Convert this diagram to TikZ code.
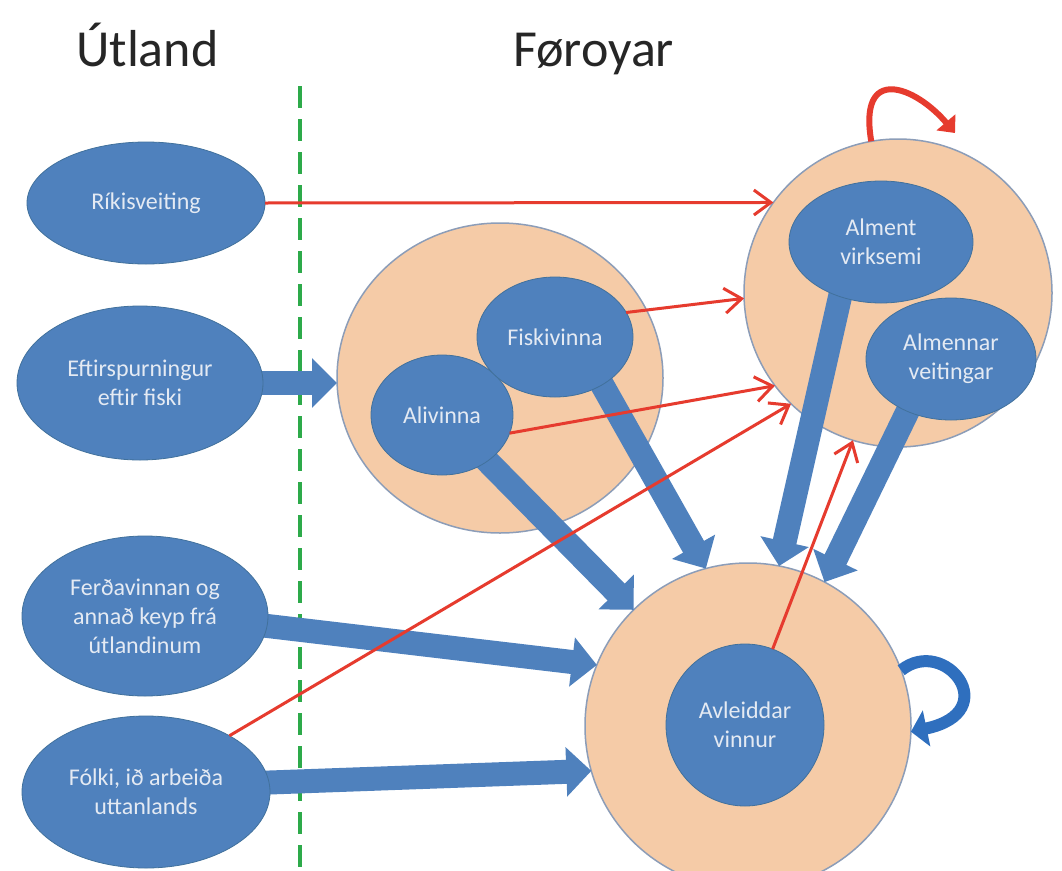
\documentclass[tikz,border=0pt]{standalone}
\usepackage{fontspec}
\setmainfont{Carlito}
\usetikzlibrary{shapes.geometric,arrows.meta,calc}
\definecolor{blu}{HTML}{4F81BD}
\definecolor{bluline}{HTML}{41719C}
\definecolor{peach}{HTML}{F5CBA7}
\definecolor{peachline}{HTML}{8C9DB8}
\definecolor{redl}{HTML}{E63B2E}
\definecolor{grn}{HTML}{2DAA4A}
\definecolor{txt}{HTML}{E4EAF3}
\definecolor{titlec}{HTML}{262626}
\definecolor{loopblue}{HTML}{2F6FBE}
\pgfdeclarelayer{back}
\pgfdeclarelayer{mid}
\pgfsetlayers{back,mid,main}
\begin{document}
\begin{tikzpicture}[x=1pt,y=-1pt,
  peachnode/.style={ellipse, fill=peach, draw=peachline, line width=1.5pt, inner sep=0pt, outer sep=0pt},
  bluenode/.style={ellipse, fill=blu, draw=bluline, line width=0.8pt, inner sep=0pt, outer sep=0pt, text=txt, align=center, font=\fontsize{24}{29}\selectfont},
  blockarrow/.style={draw=blu, line width=24pt, -{Triangle[length=25pt,width=48pt]}},
  redarrow/.style={draw=redl, line width=3pt, line join=round, -{Straight Barb[length=17pt,width=25pt]}},
  titletext/.style={anchor=base west, text=titlec, font=\fontsize{52}{60}\selectfont, inner sep=0pt},
  redloop/.style={draw=redl, line width=6pt, -{Triangle[length=14pt,width=24pt]}},
  blueloop/.style={draw=loopblue, line width=12pt, -{Triangle[length=16pt,width=36pt]}},
  divider/.style={draw=grn, line width=4.5pt, dash pattern=on 22pt off 11pt}
]
\useasboundingbox (0,0) rectangle (1062,870);

\begin{pgfonlayer}{back}
  \fill[white] (0,0) rectangle (1062,870);
  \draw[divider] (300,86) -- (300,870);
  \node[peachnode, minimum width=308pt, minimum height=308pt] (tr) at (898,293) {};
  \node[peachnode, minimum width=326pt, minimum height=310pt] (mc) at (500,378) {};
  \node[peachnode, minimum width=326pt, minimum height=326pt] (bot) at (748,726) {};
\end{pgfonlayer}

% titles
\node[titletext] (tu) at (76,66) {Útland};
\node[titletext] (tf) at (513,66) {Føroyar};

% blue ellipses
\node[bluenode, minimum width=238pt, minimum height=122pt] (rik) at (146,203) {Ríkisveiting};
\node[bluenode, minimum width=246pt, minimum height=154pt] (eft) at (140,383) {Eftirspurningur\\eftir fiski};
\node[bluenode, minimum width=246pt, minimum height=160pt] (ferd) at (145,616) {Ferðavinnan og\\annað keyp frá\\útlandinum};
\node[bluenode, minimum width=248pt, minimum height=152pt] (fol) at (146,792) {Fólki, ið arbeiða\\uttanlands};
\node[bluenode, minimum width=142pt, minimum height=120pt] (ali) at (442,415) {Alivinna};
\node[bluenode, minimum width=156pt, minimum height=120pt] (fisk) at (555,337) {Fiskivinna};
\node[bluenode, minimum width=184pt, minimum height=122pt] (av) at (881,242) {Alment\\virksemi};
\node[bluenode, minimum width=170pt, minimum height=122pt] (ave) at (951,359) {Almennar\\veitingar};
\node[bluenode, minimum width=158pt, minimum height=162pt] (avl) at (745,725) {Avleiddar\\vinnur};

% block arrows
\begin{pgfonlayer}{mid}
  \draw[blockarrow] (eft.center) -- (eft.center -| mc.west);
  \draw[blockarrow] (ali.center) -- (bot);
  \draw[blockarrow] ($(fisk.center)+(36,28)$) -- (bot.105);
  \draw[blockarrow] ($(av.center)+(-34,24)$) -- (bot.79);
  \draw[blockarrow] ($(ave.center)+(-33,31)$) -- (bot.62);
  \draw[blockarrow] ($(ferd.center)+(55,2)$) -- (bot.158);
  \draw[blockarrow] ($(fol.center)+(54,-7)$) -- (bot.196);
\end{pgfonlayer}

% red arrows
\draw[redarrow] (rik.east) -- (tr.144);
\draw[redarrow] (fisk.19) -- (tr.182);
\draw[redarrow] (ali.-15) -- (tr.217);
\draw[redarrow] (fol.34) -- (tr.226);
\draw[redarrow] (avl.70) -- (tr.253);

% loops
\coordinate (rloopend) at (955,133);
\draw[redloop] (tr.100) .. controls (858,64) and (915,86) .. (rloopend);
\draw[blueloop] (bot.20) .. controls (945,635) and (1005,712) .. (bot.-2);
\end{tikzpicture}
\end{document}
